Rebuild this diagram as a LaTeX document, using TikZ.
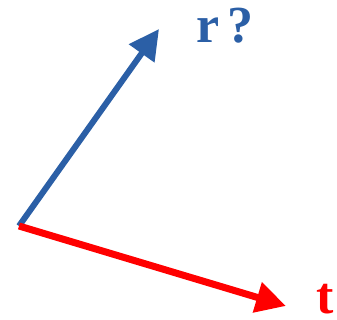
\documentclass[tikz,border=0pt]{standalone}
\usepackage{fontspec}
\setmainfont{Liberation Serif}
\usetikzlibrary{arrows.meta}
\definecolor{vblue}{HTML}{2B5FA6}
\definecolor{vred}{HTML}{FF0000}
\tikzset{vec/.style={line width=6pt,-{Triangle[length=30pt,width=30pt]}},
lbl/.style={inner sep=0pt,anchor=base west,font=\fontsize{52}{52}\selectfont\bfseries}}
\begin{document}
\begin{tikzpicture}[x=1pt,y=1pt]
\useasboundingbox (0,0) rectangle (337,320);
\coordinate (o) at (19,94);
\coordinate (rt) at (159,291);
\coordinate (tt) at (286,14);
\draw[vec,vblue] (o) -- (rt);
\draw[vec,vred,line width=7pt] (o) -- (tt);
\node[lbl,text=vblue] (r) at (196,277) {r\,?};
\node[lbl,text=vred] (t) at (316,6) {t};
\end{tikzpicture}
\end{document}
